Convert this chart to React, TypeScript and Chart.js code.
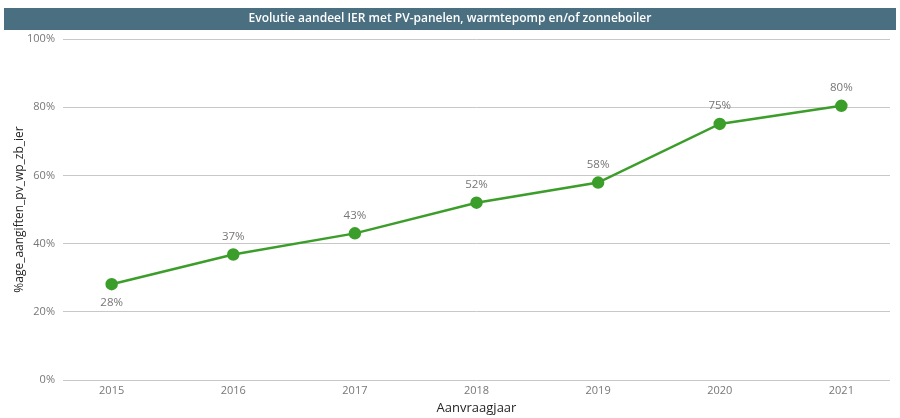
import React, { useEffect, useRef } from "react";
import { Chart, registerables } from "chart.js";

Chart.register(...registerables);

const years = [2015, 2016, 2017, 2018, 2019, 2020, 2021];
const shares = [28.1, 36.8, 43.0, 52.0, 57.9, 75.1, 80.4];
const labels = ["28%", "37%", "43%", "52%", "58%", "75%", "80%"];
const yTicks = [0, 20, 40, 60, 80, 100];
const titleText = "Evolutie aandeel IER met PV-panelen, warmtepomp en/of zonneboiler";
const xTitle = "Aanvraagjaar";
const yTitle = "%age_aangiften_pv_wp_zb_ier";

const FONT = "'Open Sans', 'Noto Sans', sans-serif";

const titleBarPlugin = {
  id: "titleBar",
  beforeDraw(chart: any) {
    const ctx = chart.ctx;
    ctx.save();
    ctx.fillStyle = "#4a6f81";
    ctx.fillRect(4, 8, 892, 22);
    ctx.fillStyle = "#ffffff";
    ctx.font = `600 12px ${FONT}`;
    ctx.textAlign = "center";
    ctx.textBaseline = "middle";
    ctx.fillText(titleText, 450, 19);
    ctx.restore();
  },
};

const dataLabelPlugin = {
  id: "dataLabels",
  afterDatasetsDraw(chart: any) {
    const ctx = chart.ctx;
    const meta = chart.getDatasetMeta(0);
    ctx.save();
    ctx.fillStyle = "#767676";
    ctx.font = `11.5px ${FONT}`;
    ctx.textAlign = "center";
    ctx.textBaseline = "middle";
    meta.data.forEach((pt: any, i: number) => {
      const below = i === 0;
      ctx.fillText(labels[i], pt.x, below ? pt.y + 19 : pt.y - 18);
    });
    ctx.restore();
  },
};

export default function App() {
  const ref = useRef<HTMLCanvasElement | null>(null);
  useEffect(() => {
    if (!ref.current) return;
    const chart = new Chart(ref.current, {
      type: "line",
      data: {
        datasets: [
          {
            data: years.map((y, i) => ({ x: y, y: shares[i] })),
            borderColor: "#3c9e2a",
            backgroundColor: "#3c9e2a",
            borderWidth: 2.5,
            pointRadius: 5,
            pointHoverRadius: 5,
            tension: 0,
          },
        ],
      },
      options: {
        animation: false,
        responsive: false,
        maintainAspectRatio: false,
        layout: { padding: { top: 39, left: 12, right: 10, bottom: 2 } },
        plugins: { legend: { display: false }, tooltip: { enabled: false } },
        scales: {
          x: {
            type: "linear",
            min: 2014.6,
            max: 2021.4,
            afterBuildTicks: (axis: any) => {
              axis.ticks = years.map((v) => ({ value: v }));
            },
            afterFit: (axis: any) => {
              axis.height = 36;
            },
            grid: { display: false },
            border: { display: false },
            ticks: {
              color: "#777777",
              font: { family: FONT, size: 11 },
              callback: (v: any) => String(v),
              padding: -4,
              maxRotation: 0,
            },
            title: {
              display: true,
              text: xTitle,
              color: "#252525",
              font: { family: FONT, size: 13 },
              padding: { top: 0, bottom: 0 },
            },
          },
          y: {
            min: 0,
            max: 100,
            afterBuildTicks: (axis: any) => {
              axis.ticks = yTicks.map((v) => ({ value: v }));
            },
            afterFit: (axis: any) => {
              axis.width = 51;
            },
            grid: { color: "#c8c8c8", lineWidth: 1, drawTicks: false },
            border: { display: false },
            ticks: {
              color: "#777777",
              font: { family: FONT, size: 11 },
              callback: (v: any) => `${v}%`,
              padding: 8,
            },
            title: {
              display: true,
              text: yTitle,
              color: "#252525",
              font: { family: FONT, size: 12 },
              padding: { top: 0, bottom: 0 },
            },
          },
        },
      },
      plugins: [titleBarPlugin, dataLabelPlugin],
    });
    return () => chart.destroy();
  }, []);
  return (
    <div style={{ position: "absolute", left: 0, top: 0, width: 900, height: 418, background: "#fff" }}>
      <canvas ref={ref} width={900} height={418} style={{ display: "block" }} />
    </div>
  );
}
